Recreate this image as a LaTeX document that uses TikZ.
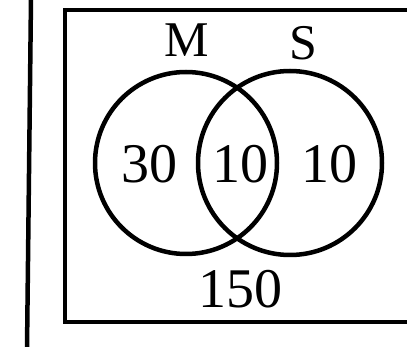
\documentclass[tikz,border=0pt]{standalone}
\usepackage{fontspec}
\setmainfont{Liberation Serif}
\begin{document}
\begin{tikzpicture}[x=1pt,y=-1pt,line width=4.5pt]
\tikzset{num/.style={font=\fontsize{56}{60}\selectfont},
  setname/.style={font=\fontsize{50}{54}\selectfont}}
\useasboundingbox (0,0) rectangle (407,347);
\clip (0,0) rectangle (407,347);

   % margin line and frame
   \draw (31,-2) -- (27,349);
   \draw (415,10) -- (65,10) -- (65,322) -- (415,322);

   \node[circle,draw,minimum size=182pt,inner sep=0pt] at (186,163) (M) {};
   \node[circle,draw,minimum size=184pt,inner sep=0pt] at (290,163) (S) {};

   \node[setname] at (187,40) (m) {M};
   \node[setname] at (303,43) (s) {S};

   \node[num] at (149,164) (a) {30};
   \node[num] at (240,164) (b) {10};
   \node[num] at (329,164) (c) {10};
   \node[num] at (240,289) (d) {150};

\end{tikzpicture}
\end{document}
